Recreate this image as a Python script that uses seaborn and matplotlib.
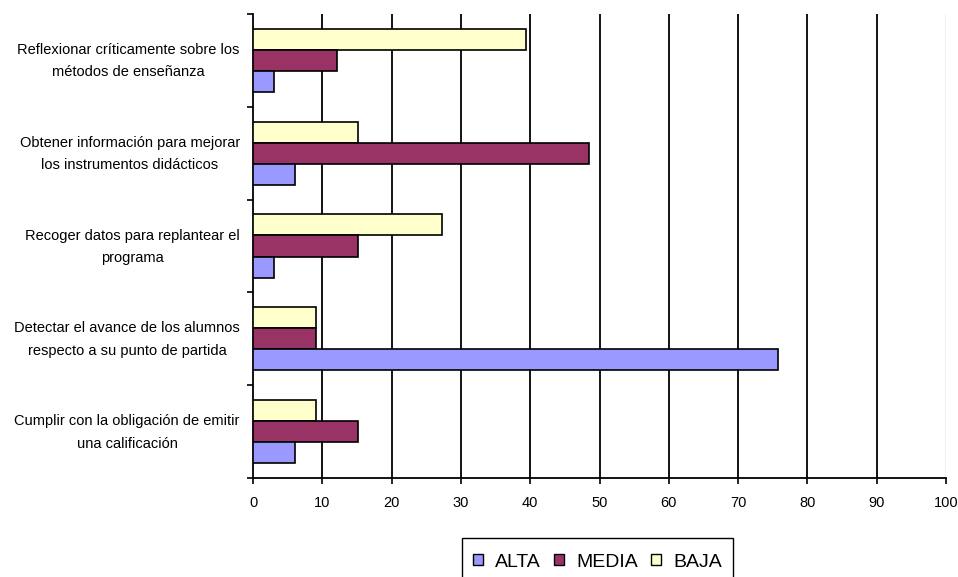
import matplotlib
matplotlib.use("Agg")
import matplotlib.pyplot as plt
import matplotlib.transforms as mtransforms
import seaborn as sns
import pandas as pd
from matplotlib.patches import Patch, Rectangle
from matplotlib.ticker import MultipleLocator, FixedLocator

categorias = [
    "Reflexionar críticamente sobre los\nmétodos de enseñanza",
    "Obtener información para mejorar\nlos instrumentos didácticos",
    "Recoger datos para replantear el\nprograma",
    "Detectar el avance de los alumnos\nrespecto a su punto de partida",
    "Cumplir con la obligación de emitir\nuna calificación",
]
alta = [3.0, 6.1, 3.0, 75.8, 6.1]
media = [12.1, 48.5, 15.2, 9.1, 15.2]
baja = [39.4, 15.2, 27.3, 9.1, 9.1]

niveles = ["ALTA", "MEDIA", "BAJA"]
colores = {"ALTA": "#9999FF", "MEDIA": "#993366", "BAJA": "#FFFFCC"}

df = pd.DataFrame({
    "categoria": categorias * 3,
    "valor": alta + media + baja,
    "nivel": ["ALTA"] * 5 + ["MEDIA"] * 5 + ["BAJA"] * 5,
})

sns.set_theme(style="white")
plt.rcParams["font.family"] = ["Liberation Sans", "DejaVu Sans"]
plt.rcParams["text.color"] = "black"
plt.rcParams["xtick.labelcolor"] = "black"
plt.rcParams["ytick.labelcolor"] = "black"

fig = plt.figure(figsize=(9.58, 5.77), dpi=100)
ax = fig.add_axes([0.2641, 0.1716, 0.7234, 0.8041])

sns.barplot(
    data=df, y="categoria", x="valor", hue="nivel",
    order=categorias, hue_order=["BAJA", "MEDIA", "ALTA"],
    palette=colores, orient="h", width=0.68,
    edgecolor="black", linewidth=1.2, saturation=1,
    legend=False, ax=ax, zorder=3,
)

ax.set_xlim(0, 100)
ax.set_ylim(4.5, -0.5)
ax.xaxis.set_major_locator(MultipleLocator(10))
for xv in range(10, 100, 10):
    ax.axvline(xv, color="black", lw=1.3, zorder=1)
ax.axvline(100, color="#BBBBBB", lw=1.0, zorder=1)

ax.set_xlabel("")
ax.set_ylabel("")
for s in ["top", "right"]:
    ax.spines[s].set_visible(False)
for s in ["left", "bottom"]:
    ax.spines[s].set_color("black")
    ax.spines[s].set_linewidth(1.3)

ax.tick_params(axis="x", direction="out", length=4, width=1.2, color="black",
               labelsize=10.5, labelcolor="black", pad=9, bottom=True)
ax.tick_params(axis="y", which="major", length=0, labelsize=10.5,
               labelcolor="black", pad=9.5)
ax.yaxis.set_minor_locator(FixedLocator([-0.5, 0.5, 1.5, 2.5, 3.5, 4.5]))
ax.tick_params(axis="y", which="minor", direction="out", length=4, width=1.2,
               color="black", left=True)
shift_up = mtransforms.ScaledTranslation(0, 5 / 100, fig.dpi_scale_trans)
for lbl in ax.get_yticklabels():
    lbl.set_multialignment("center")
    lbl.set_linespacing(1.78)
    lbl.set_transform(lbl.get_transform() + shift_up)

# legend entries, with a plain frame running off the bottom edge
handles = [Patch(facecolor=colores[n], edgecolor="black", linewidth=1.0, label=n)
           for n in niveles]
leg = fig.legend(handles=handles, loc="upper center", bbox_to_anchor=(0.6237, 0.054),
                 ncol=3, fontsize=14, frameon=False, labelcolor="black",
                 borderaxespad=0, handlelength=0.52, handleheight=0.52,
                 handletextpad=0.62, columnspacing=0.67, borderpad=0.4)
frame = Rectangle((462 / 958, -0.05), (733 - 462) / 958, 0.05 + (577 - 538) / 577,
                  transform=fig.transFigure, facecolor="none", edgecolor="black",
                  linewidth=1.0, clip_on=False)
fig.add_artist(frame)

fig.savefig("out.png", dpi=100)
